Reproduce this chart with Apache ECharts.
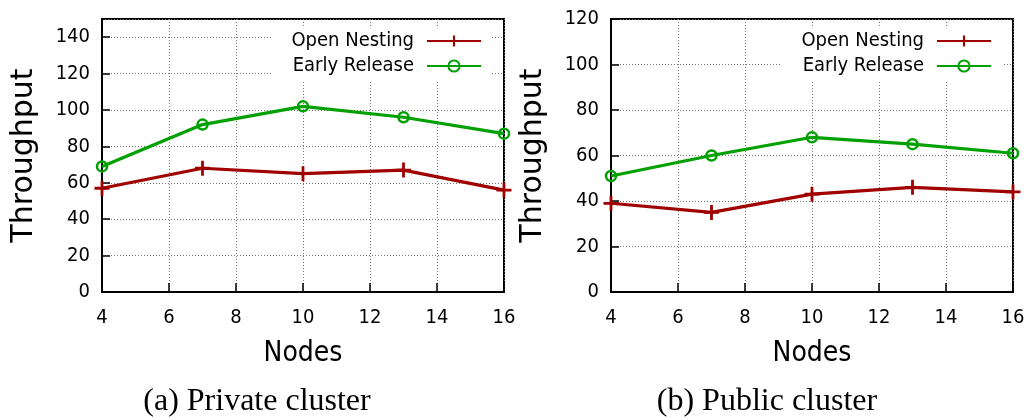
<!DOCTYPE html>
<html>
<head>
<meta charset="utf-8">
<title>Throughput vs Nodes</title>
<style>
  html, body { margin: 0; padding: 0; background: #fff; }
  #main { width: 1031px; height: 420px; }
</style>
</head>
<body>
<div id="main"></div>
<script src="https://cdn.jsdelivr.net/npm/echarts@6/dist/echarts.min.js"></script>
<script>
// data
var nodes = [4, 7, 10, 13, 16];
var privOpenNesting = [57, 68, 65, 67, 56];
var privEarlyRelease = [69, 92, 102, 96, 87];
var pubOpenNesting = [39, 35, 43, 46, 44];
var pubEarlyRelease = [51, 60, 68, 65, 61];
var captions = ['(a) Private cluster', '(b) Public cluster'];

var RED = '#a00000';
var GREEN = '#00a000';
var FONT = '"DejaVu Sans Condensed", "DejaVu Sans", sans-serif';
var PLUS = 'path://M5.7,0H8.3V5.7H14V8.3H8.3V14H5.7V8.3H0V5.7H5.7Z';

function pairs(ys) {
	return nodes.map(function (x, i) { return [x, ys[i]]; });
}

var grids = [
	{left: 102, right: 527, top: 19, bottom: 128},
	{left: 611, right: 18, top: 19, bottom: 128}
];

function xAxisFor(idx) {
	return {
		type: 'value', gridIndex: idx, min: 4, max: 16, interval: 2,
		name: 'Nodes', nameLocation: 'middle', nameGap: 48,
		nameTextStyle: {fontFamily: FONT, fontSize: 28, color: '#000'},
		axisLine: {lineStyle: {color: '#000', width: 2}},
		axisTick: {inside: true, length: 9, lineStyle: {color: '#000', width: 1.5}},
		axisLabel: {fontFamily: FONT, fontSize: 20, color: '#000', margin: 16},
		splitLine: {show: true, lineStyle: {color: '#777', type: [1, 2], width: 1}}
	};
}

function yAxisFor(idx, max) {
	return {
		type: 'value', gridIndex: idx, min: 0, max: max, interval: 20,
		name: 'Throughput', nameLocation: 'middle', nameGap: 63,
		nameTextStyle: {fontFamily: 'DejaVu Sans, sans-serif', fontSize: 30, color: '#000'},
		axisLine: {show: true, lineStyle: {color: '#000', width: 2}},
		axisTick: {show: true, inside: true, length: 8, lineStyle: {color: '#000', width: 1.5}},
		axisLabel: {fontFamily: FONT, fontSize: 20, color: '#000', margin: 12,
			showMaxLabel: max % 20 === 0},
		splitLine: {show: true, lineStyle: {color: '#777', type: [1, 2], width: 1}}
	};
}

function openSeries(idx, ys) {
	return {
		name: 'Open Nesting', type: 'line', xAxisIndex: idx, yAxisIndex: idx,
		data: pairs(ys), symbol: PLUS, symbolSize: 15,
		lineStyle: {color: RED, width: 3.2},
		itemStyle: {color: RED},
		z: 3
	};
}

function earlySeries(idx, ys) {
	return {
		name: 'Early Release', type: 'line', xAxisIndex: idx, yAxisIndex: idx,
		data: pairs(ys), symbol: 'circle', symbolSize: 10,
		lineStyle: {color: GREEN, width: 3.2},
		itemStyle: {color: 'rgba(0,0,0,0)', borderColor: GREEN, borderWidth: 2.5},
		z: 4
	};
}

function legendFor(right) {
	return {
		right: right, top: 28, orient: 'vertical', align: 'right',
		backgroundColor: '#fff', padding: [3, 10, 4, 20],
		itemWidth: 54, itemHeight: 14, itemGap: 5,
		textStyle: {fontFamily: FONT, fontSize: 20, color: '#000', lineHeight: 20, padding: [0, 8, 0, 0]},
		data: ['Open Nesting', 'Early Release'],
		selectedMode: false
	};
}

var myChart = echarts.init(document.getElementById('main'), null, {renderer: 'canvas'});
myChart.setOption({
	backgroundColor: '#fff',
	animation: false,
	grid: grids.map(function (g) {
		return Object.assign({show: true, borderColor: '#000', borderWidth: 2, backgroundColor: 'transparent'}, g);
	}),
	xAxis: [xAxisFor(0), xAxisFor(1)],
	yAxis: [yAxisFor(0, 150), yAxisFor(1, 120)],
	legend: [legendFor(1031 - 492), legendFor(1031 - 1002)],
	series: [
		openSeries(0, privOpenNesting),
		earlySeries(0, privEarlyRelease),
		openSeries(1, pubOpenNesting),
		earlySeries(1, pubEarlyRelease)
	],
	graphic: [
		{type: 'text', x: 257, y: 402, style: {text: captions[0], font: '32px "Liberation Serif", serif', fill: '#000', textAlign: 'center', textVerticalAlign: 'middle'}},
		{type: 'text', x: 767, y: 402, style: {text: captions[1], font: '32px "Liberation Serif", serif', fill: '#000', textAlign: 'center', textVerticalAlign: 'middle'}}
	]
});
</script>
</body>
</html>
